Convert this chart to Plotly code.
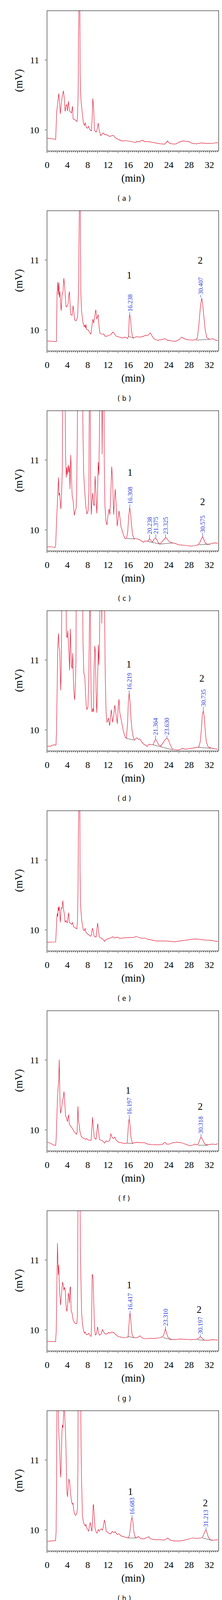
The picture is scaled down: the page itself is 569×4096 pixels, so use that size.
import plotly.graph_objects as go

# ---------------- data ----------------
panel_names = ["( a )", "( b )", "( c )", "( d )", "( e )", "( f )", "( g )", "( h )"]

t_a = [0.08, 1.69, 1.89, 2.08, 2.30, 2.44, 2.61, 2.80, 2.99, 3.22, 3.41, 3.55, 3.75, 3.89, 4.00, 4.22, 4.41, 4.66,
       4.80, 5.02, 5.13, 5.50, 5.91, 6.02, 6.13, 6.19, 6.25, 6.41, 6.52, 6.61, 6.74, 6.97, 7.16, 7.35, 7.52, 7.72,
       7.99, 8.16, 8.41, 8.74, 8.88, 9.02, 9.19, 9.33, 9.66, 9.85, 10.07, 10.27, 10.57, 11.05, 11.46, 11.74, 12.30,
       13.07, 13.41, 13.96, 14.79, 15.63, 16.74, 17.51, 17.71, 18.12, 18.82, 19.23, 20.07, 21.18, 22.29, 23.26,
       23.73, 24.17, 25.06, 25.48, 26.17, 26.78, 27.42, 27.98, 28.67, 29.50, 30.47, 31.45, 32.83, 33.31, 33.67]
v_a = [9.885, 9.867, 10.256, 10.366, 10.52, 10.42, 10.23, 10.38, 10.475, 10.56, 10.44, 10.265, 10.35, 10.366, 10.27,
       10.41, 10.27, 10.26, 10.24, 10.34, 10.165, 10.146, 10.12, 10.22, 10.57, 11.26, 12.6, 12.6, 10.79, 10.53,
       10.38, 10.22, 10.10, 10.064, 10.106, 10.037, 10.027, 10.055, 10.01, 9.985, 10.165, 10.45, 10.29, 10.0,
       9.97, 10.0, 10.10, 10.0, 9.918, 9.96, 9.93, 9.936, 9.909, 9.927, 9.894, 9.868, 9.845, 9.848, 9.835, 9.823,
       9.84, 9.832, 9.857, 9.835, 9.835, 9.82, 9.804, 9.80, 9.845, 9.808, 9.80, 9.804, 9.832, 9.845, 9.839, 9.835,
       9.808, 9.804, 9.817, 9.808, 9.811, 9.82, 9.817]

t_b = [0.08, 1.75, 1.83, 1.97, 2.11, 2.22, 2.33, 2.44, 2.53, 2.66, 2.78, 2.94, 3.14, 3.30, 3.47, 3.64, 3.75, 3.97,
       4.14, 4.25, 4.39, 4.52, 4.66, 4.94, 5.13, 5.27, 5.44, 5.69, 5.97, 6.05, 6.13, 6.24, 6.30, 6.36, 6.52, 6.58,
       6.66, 6.80, 7.02, 7.30, 7.44, 7.58, 7.66, 7.80, 8.13, 8.41, 8.63, 8.83, 9.02, 9.19, 9.41, 9.60, 9.80, 9.94,
       10.07, 10.19, 10.41, 10.91, 11.19, 11.46, 12.02, 12.57, 12.99, 13.27, 13.68, 14.24, 14.79, 15.35, 15.90,
       16.07, 16.21, 16.29, 16.43, 16.60, 16.82, 17.07, 17.57, 18.40, 18.96, 19.37, 19.79, 20.34, 20.62, 21.04,
       21.73, 22.56, 23.26, 23.67, 24.51, 25.34, 26.03, 26.51, 26.95, 27.56, 28.67, 29.37, 29.64, 29.92, 30.20,
       30.47, 30.66, 30.89, 31.17, 31.50, 32.00, 32.69, 33.25, 33.67]
v_b = [9.845, 9.839, 9.835, 10.53, 10.686, 10.50, 10.676, 10.466, 10.55, 10.384, 10.274, 10.494, 10.55, 10.74, 10.62,
       10.42, 10.33, 10.34, 10.375, 10.475, 10.55, 10.384, 10.22, 10.21, 10.347, 10.256, 10.146, 10.13, 10.174,
       10.238, 10.494, 10.676, 11.35, 12.6, 12.6, 11.26, 10.53, 10.274, 10.128, 10.046, 10.073, 10.027, 10.082,
       10.009, 10.0, 9.963, 9.94, 10.055, 10.155, 10.10, 10.20, 10.29, 10.155, 10.19, 10.22, 10.09, 9.954, 9.94,
       9.945, 9.909, 9.918, 9.936, 9.973, 9.945, 9.909, 9.90, 9.887, 9.90, 9.881, 9.927, 10.20, 10.22, 10.165,
       10.018, 9.909, 9.887, 9.905, 9.90, 9.909, 9.927, 9.918, 9.96, 9.927, 9.876, 9.854, 9.863, 9.878, 9.857,
       9.845, 9.839, 9.863, 9.90, 9.881, 9.863, 9.857, 9.863, 9.89, 10.073, 10.31, 10.457, 10.384, 10.20, 10.0,
       9.89, 9.868, 9.876, 9.854, 9.85]

t_c = [0.08, 1.19, 1.53, 1.69, 1.89, 2.08, 2.25, 2.36, 2.47, 2.58, 2.72, 2.86, 3.00, 3.14, 3.30, 3.50, 3.64, 3.77,
       3.89, 4.02, 4.16, 4.30, 4.41, 4.52, 4.66, 4.80, 4.94, 5.13, 5.36, 5.55, 5.72, 5.83, 5.97, 6.02, 6.97, 7.08,
       7.22, 7.44, 7.63, 7.85, 8.08, 8.24, 8.35, 8.46, 8.58, 8.72, 8.85, 8.99, 9.16, 9.30, 9.46, 9.60, 9.80, 9.94,
       10.07, 10.21, 10.35, 10.49, 10.77, 10.85, 10.99, 11.19, 11.27, 11.41, 11.60, 11.80, 12.02, 12.21, 12.38,
       12.57, 12.74, 12.91, 13.13, 13.27, 13.43, 13.60, 13.82, 14.02, 14.18, 14.38, 14.57, 14.79, 15.07, 15.40,
       15.68, 15.90, 16.10, 16.29, 16.46, 16.65, 16.87, 17.15, 17.71, 18.26, 18.62, 18.96, 19.23, 19.65, 19.93,
       20.20, 20.43, 20.76, 21.12, 21.40, 21.62, 21.95, 22.23, 22.56, 22.98, 23.40, 23.67, 24.09, 24.65, 25.34,
       25.89, 26.73, 27.56, 28.39, 29.09, 29.78, 30.20, 30.47, 30.66, 30.89, 31.17, 31.58, 32.14, 32.56, 33.11,
       33.67]
v_c = [9.762, 9.759, 9.748, 9.78, 10.165, 10.53, 10.75, 10.494, 10.53, 10.42, 10.30, 10.53, 10.86, 12.4, 12.4, 12.4,
       11.08, 10.75, 10.896, 10.786, 10.93, 10.82, 10.91, 10.585, 11.07, 10.713, 10.494, 10.42, 10.21, 10.274,
       10.31, 10.53, 11.44, 12.4, 12.4, 11.35, 10.80, 10.53, 10.347, 10.229, 10.274, 10.53, 12.4, 12.4, 10.713,
       10.22, 10.42, 10.53, 10.366, 10.347, 10.768, 10.585, 10.238, 10.457, 10.97, 10.786, 11.26, 12.4, 12.4,
       11.08, 12.4, 12.4, 10.987, 10.347, 10.128, 10.073, 10.22, 10.30, 10.22, 10.53, 10.905, 10.713, 10.22,
       10.42, 10.585, 10.384, 10.055, 10.165, 10.274, 10.165, 10.046, 10.0, 9.927, 9.876, 9.881, 9.982, 10.20,
       10.32, 10.238, 10.073, 9.927, 9.881, 9.876, 9.863, 9.845, 9.826, 9.845, 9.841, 9.845, 9.876, 9.857, 9.83,
       9.872, 9.887, 9.863, 9.817, 9.80, 9.826, 9.863, 9.894, 9.872, 9.835, 9.817, 9.808, 9.79, 9.786, 9.78,
       9.771, 9.777, 9.79, 9.835, 9.881, 9.905, 9.872, 9.817, 9.795, 9.80, 9.813, 9.817, 9.813]

t_d = [0.08, 0.64, 1.33, 1.75, 1.86, 1.97, 2.11, 2.25, 2.36, 2.47, 2.58, 2.69, 2.80, 2.91, 2.97, 3.69, 3.80, 3.97,
       4.08, 4.19, 4.30, 4.44, 4.58, 4.69, 4.80, 4.94, 5.05, 5.19, 5.33, 5.44, 5.58, 5.69, 5.77, 6.97, 7.08, 7.24,
       7.44, 7.58, 7.72, 7.85, 8.05, 8.22, 8.35, 8.49, 8.60, 8.74, 8.88, 9.02, 9.16, 9.27, 9.41, 9.52, 9.66, 9.80,
       9.91, 10.02, 10.10, 10.21, 10.35, 10.49, 10.71, 10.77, 10.91, 11.24, 11.35, 11.46, 11.63, 11.80, 11.96,
       12.10, 12.24, 12.35, 12.52, 12.66, 12.79, 12.93, 13.13, 13.35, 13.52, 13.68, 13.85, 14.02, 14.18, 14.32,
       14.52, 14.74, 15.02, 15.35, 15.62, 15.85, 16.01, 16.18, 16.35, 16.54, 16.74, 16.96, 17.23, 17.51, 17.71,
       17.99, 18.26, 18.54, 18.90, 19.29, 19.73, 20.07, 20.34, 20.90, 21.18, 21.40, 21.68, 22.01, 22.43, 22.84,
       23.26, 23.62, 23.90, 24.23, 24.65, 25.06, 25.89, 26.31, 26.73, 27.28, 28.11, 28.95, 29.50, 29.92, 30.20,
       30.42, 30.61, 30.81, 30.97, 31.17, 31.39, 31.72, 32.28, 32.97, 33.67]
v_d = [9.771, 9.771, 9.79, 9.784, 9.98, 10.53, 11.21, 11.38, 11.17, 11.16, 10.896, 10.567, 10.914, 11.30, 12.4, 12.4,
       11.35, 11.316, 11.417, 11.26, 11.115, 10.85, 11.444, 11.19, 10.914, 10.877, 11.097, 10.73, 10.494, 10.43,
       10.64, 10.987, 12.4, 12.4, 11.26, 10.823, 10.75, 10.53, 10.347, 10.29, 10.33, 10.713, 12.4, 12.4, 10.896,
       10.31, 10.256, 10.31, 10.256, 10.896, 11.20, 11.115, 10.53, 10.247, 10.53, 11.04, 11.216, 10.93, 11.26,
       12.4, 12.4, 11.52, 12.4, 12.4, 11.35, 10.80, 10.256, 10.11, 10.128, 10.174, 10.10, 10.064, 10.20, 10.29,
       10.20, 10.11, 10.20, 10.356, 10.256, 10.165, 10.091, 10.33, 10.44, 10.256, 10.183, 10.091, 9.991, 9.909,
       9.881, 10.073, 10.384, 10.53, 10.40, 10.165, 10.0, 9.909, 9.857, 9.881, 9.89, 9.868, 9.872, 9.845, 9.808,
       9.79, 9.766, 9.80, 9.793, 9.79, 9.845, 9.872, 9.835, 9.79, 9.771, 9.817, 9.863, 9.887, 9.863, 9.80, 9.735,
       9.72, 9.717, 9.726, 9.739, 9.726, 9.735, 9.744, 9.753, 9.762, 9.835, 10.018, 10.22, 10.274, 10.20, 10.0,
       9.835, 9.762, 9.744, 9.735, 9.726]

t_e = [0.08, 1.69, 1.80, 1.94, 2.03, 2.11, 2.19, 2.30, 2.39, 2.50, 2.61, 2.75, 2.86, 2.97, 3.11, 3.25, 3.39, 3.55,
       3.75, 3.97, 4.14, 4.25, 4.39, 4.66, 4.86, 5.02, 5.22, 5.50, 5.86, 5.99, 6.11, 6.16, 6.22, 6.44, 6.49, 6.58,
       6.69, 6.88, 7.16, 7.35, 7.49, 7.63, 7.85, 8.27, 8.55, 8.74, 8.85, 8.96, 9.10, 9.30, 9.66, 9.80, 9.96, 10.10,
       10.29, 10.77, 11.10, 11.32, 11.60, 12.16, 12.57, 12.96, 13.27, 13.82, 14.38, 15.35, 16.46, 17.15, 17.57,
       18.12, 18.82, 19.23, 19.79, 20.62, 21.45, 22.29, 23.40, 24.37, 25.06, 26.17, 27.28, 28.39, 29.22, 30.06,
       31.17, 32.28, 32.97, 33.67]
v_e = [9.826, 9.83, 9.98, 10.20, 10.238, 10.19, 10.33, 10.274, 10.338, 10.20, 10.11, 10.29, 10.32, 10.31, 10.42,
       10.29, 10.238, 10.11, 10.137, 10.10, 10.20, 10.247, 10.11, 10.091, 10.082, 10.11, 10.046, 10.033, 10.018,
       10.12, 10.64, 11.32, 12.6, 12.6, 10.896, 10.41, 10.256, 10.11, 10.0, 9.99, 10.027, 9.973, 9.954, 9.93,
       9.912, 9.927, 10.0, 10.027, 9.973, 9.909, 9.90, 9.982, 10.10, 10.018, 9.90, 9.881, 9.863, 9.839, 9.863,
       9.881, 9.89, 9.905, 9.887, 9.90, 9.881, 9.89, 9.894, 9.896, 9.909, 9.894, 9.881, 9.887, 9.872, 9.857,
       9.845, 9.845, 9.845, 9.839, 9.832, 9.845, 9.854, 9.868, 9.872, 9.868, 9.857, 9.854, 9.845, 9.835]

t_f = [0.08, 0.64, 1.19, 1.69, 1.80, 1.94, 2.05, 2.19, 2.30, 2.39, 2.47, 2.55, 2.66, 2.86, 3.05, 3.19, 3.33, 3.47,
       3.64, 3.83, 4.02, 4.16, 4.25, 4.39, 4.58, 4.94, 5.22, 5.50, 5.77, 5.91, 5.99, 6.08, 6.19, 6.33, 6.47, 6.74,
       7.16, 7.58, 7.85, 8.13, 8.69, 8.83, 8.96, 9.10, 9.30, 9.66, 9.85, 9.99, 10.16, 10.35, 10.77, 11.10, 11.35,
       11.60, 12.02, 12.35, 12.57, 12.85, 13.13, 13.35, 13.63, 14.10, 14.79, 15.35, 15.79, 15.96, 16.10, 16.21,
       16.35, 16.54, 16.82, 17.15, 17.71, 18.40, 19.23, 19.79, 20.62, 21.73, 22.70, 23.06, 23.26, 23.53, 24.09,
       24.79, 25.62, 26.45, 27.28, 28.11, 28.67, 29.09, 29.50, 29.78, 30.06, 30.34, 30.61, 30.95, 31.31, 31.72,
       32.56, 33.25, 33.67]
v_f = [9.826, 9.813, 9.79, 9.78, 9.89, 10.256, 10.457, 10.62, 10.713, 11.005, 10.676, 10.384, 10.238, 10.31, 10.42,
       10.457, 10.55, 10.42, 10.20, 10.174, 10.12, 10.183, 10.22, 10.082, 10.064, 10.027, 9.99, 9.963, 9.94,
       9.963, 10.22, 10.338, 10.128, 10.073, 9.982, 9.909, 9.881, 9.868, 9.876, 9.857, 9.854, 10.0, 10.183,
       10.055, 9.89, 9.868, 9.982, 10.091, 9.963, 9.863, 9.854, 9.835, 9.813, 9.845, 9.835, 9.854, 9.949, 9.89,
       9.881, 9.90, 9.854, 9.826, 9.817, 9.808, 9.813, 9.982, 10.137, 10.155, 10.073, 9.89, 9.811, 9.817, 9.826,
       9.82, 9.82, 9.80, 9.793, 9.79, 9.793, 9.817, 9.826, 9.80, 9.80, 9.82, 9.826, 9.82, 9.80, 9.777, 9.784,
       9.80, 9.79, 9.80, 9.854, 9.90, 9.872, 9.817, 9.79, 9.79, 9.80, 9.795, 9.808]

t_g = [0.08, 1.67, 1.80, 1.92, 2.00, 2.05, 2.14, 2.22, 2.30, 2.39, 2.53, 2.66, 2.80, 2.94, 3.05, 3.19, 3.30, 3.44,
       3.58, 3.72, 3.89, 4.02, 4.19, 4.30, 4.41, 4.52, 4.61, 4.75, 4.94, 5.13, 5.36, 5.63, 5.86, 5.97, 6.05, 6.11,
       6.47, 6.55, 6.66, 6.80, 6.97, 7.16, 7.35, 7.52, 7.72, 7.99, 8.27, 8.49, 8.69, 8.80, 8.88, 8.96, 9.08, 9.19,
       9.33, 9.52, 9.71, 9.85, 9.96, 10.13, 10.30, 10.63, 10.91, 11.13, 11.46, 11.88, 12.16, 12.43, 12.71, 13.13,
       13.54, 13.96, 14.52, 15.07, 15.63, 15.96, 16.13, 16.29, 16.37, 16.54, 16.74, 17.01, 17.57, 17.99, 18.32,
       18.68, 19.23, 20.07, 21.18, 22.15, 22.70, 22.98, 23.20, 23.34, 23.53, 23.81, 24.37, 25.06, 26.17, 27.28,
       28.39, 29.50, 29.84, 30.20, 30.53, 30.95, 31.72, 32.56, 33.67]
v_g = [9.839, 9.835, 9.98, 10.53, 11.04, 11.24, 10.95, 10.786, 10.93, 10.676, 10.494, 10.356, 10.475, 10.60, 10.686,
       10.64, 10.567, 10.61, 10.567, 10.366, 10.265, 10.33, 10.53, 10.494, 10.384, 10.60, 10.62, 10.274, 10.238,
       10.146, 10.11, 10.091, 10.091, 10.20, 11.08, 12.4, 12.4, 11.17, 10.713, 10.256, 10.091, 10.0, 9.954, 9.973,
       9.936, 9.936, 9.954, 9.918, 9.909, 10.165, 10.786, 10.795, 10.713, 10.42, 10.055, 9.927, 9.945, 10.0,
       10.046, 9.963, 9.927, 9.94, 10.009, 9.973, 9.945, 9.945, 9.967, 9.954, 9.973, 9.963, 9.936, 9.909, 9.90,
       9.89, 9.894, 9.90, 10.055, 10.229, 10.238, 10.11, 9.945, 9.894, 9.89, 9.90, 9.918, 9.89, 9.876, 9.881,
       9.881, 9.89, 9.903, 9.927, 9.991, 10.018, 9.963, 9.90, 9.868, 9.863, 9.872, 9.868, 9.863, 9.868, 9.881,
       9.905, 9.887, 9.857, 9.854, 9.863, 9.857]

t_h = [0.08, 1.67, 1.78, 1.89, 1.97, 2.14, 2.25, 2.36, 2.47, 2.58, 2.69, 2.80, 2.91, 3.02, 3.14, 3.25, 3.36, 3.47,
       3.58, 3.69, 3.80, 3.91, 4.02, 4.16, 4.30, 4.47, 4.61, 4.80, 4.97, 5.11, 5.24, 5.41, 5.63, 5.86, 5.99, 6.08,
       6.13, 6.61, 6.69, 6.80, 6.97, 7.16, 7.35, 7.52, 7.66, 7.80, 7.99, 8.19, 8.35, 8.52, 8.69, 8.83, 8.94, 9.08,
       9.16, 9.27, 9.44, 9.66, 9.85, 10.07, 10.30, 10.49, 10.69, 10.91, 11.10, 11.30, 11.46, 11.68, 12.02, 12.30,
       12.57, 12.85, 13.13, 13.46, 13.82, 14.18, 14.52, 14.93, 15.35, 15.96, 16.24, 16.46, 16.65, 16.76, 16.90,
       17.09, 17.34, 17.71, 17.99, 18.40, 19.10, 19.51, 20.01, 20.34, 21.18, 22.29, 23.12, 23.81, 24.23, 25.06,
       26.17, 27.00, 27.84, 28.67, 29.50, 30.34, 30.67, 30.95, 31.17, 31.34, 31.53, 31.78, 32.14, 32.69, 33.67]
v_h = [9.839, 9.85, 9.982, 10.896, 12.4, 12.4, 11.536, 11.30, 11.225, 10.896, 10.75, 10.987, 11.35, 11.50, 11.46,
       11.66, 12.4, 11.63, 11.48, 11.26, 10.896, 10.548, 10.475, 10.62, 10.73, 10.676, 10.53, 10.42, 10.366,
       10.384, 10.29, 10.229, 10.21, 10.238, 10.31, 10.896, 12.4, 12.4, 11.26, 10.713, 10.20, 10.11, 10.082,
       10.055, 10.082, 10.027, 10.009, 9.982, 10.055, 10.11, 10.027, 9.982, 10.091, 10.347, 10.366, 10.238,
       10.037, 9.973, 9.954, 10.009, 9.982, 10.009, 10.018, 9.996, 10.055, 10.146, 10.091, 9.982, 9.963, 9.949,
       9.945, 9.982, 9.963, 9.976, 9.936, 9.949, 9.918, 9.909, 9.90, 9.887, 9.927, 10.073, 10.165, 10.174,
       10.128, 9.982, 9.90, 9.89, 9.909, 9.881, 9.872, 9.89, 9.905, 9.876, 9.863, 9.863, 9.857, 9.887, 9.857,
       9.845, 9.845, 9.854, 9.872, 9.887, 9.881, 9.887, 9.90, 9.954, 9.991, 10.0, 9.963, 9.90, 9.863, 9.854,
       9.863]

# integration baselines (per panel: list of [t_start, t_end] and [v_start, v_end])
base_t = {
    "b": [[15.99, 17.02], [29.45, 32.0]],
    "c": [[15.76, 17.29], [19.79, 22.29], [22.29, 24.79], [29.92, 32.0]],
    "d": [[15.62, 17.15], [20.90, 24.79], [29.78, 32.28]],
    "f": [[15.79, 16.87], [29.72, 31.72]],
    "g": [[15.90, 17.29], [22.84, 24.51], [29.64, 31.03]],
    "h": [[15.96, 17.57], [30.61, 32.56]],
}
base_v = {
    "b": [[9.912, 9.885], [9.857, 9.867]],
    "c": [[9.881, 9.872], [9.839, 9.80], [9.80, 9.817], [9.79, 9.80]],
    "d": [[9.881, 9.857], [9.79, 9.717], [9.753, 9.74]],
    "f": [[9.813, 9.808], [9.784, 9.784]],
    "g": [[9.909, 9.89], [9.894, 9.863], [9.863, 9.854]],
    "h": [[9.887, 9.887], [9.887, 9.854]],
}

# retention-time labels: text, apex time, apex value, label base value
rt_text = {
    "b": ["16.238", "30.407"],
    "c": ["16.308", "20.238", "21.375", "23.325", "30.575"],
    "d": ["16.219", "21.364", "23.630", "30.735"],
    "f": ["16.197", "30.318"],
    "g": ["16.417", "23.310", "30.197"],
    "h": ["16.683", "31.213"],
}
rt_x = {
    "b": [16.30, 30.30],
    "c": [16.32, 20.18, 21.45, 23.34, 30.67],
    "d": [16.18, 21.40, 23.62, 30.81],
    "f": [16.21, 30.34],
    "g": [16.37, 23.34, 30.20],
    "h": [16.76, 31.34],
}
rt_apex = {
    "b": [10.223, 10.466],
    "c": [10.32, 9.876, 9.89, 9.90, 9.905],
    "d": [10.53, 9.872, 9.89, 10.274],
    "f": [10.155, 9.90],
    "g": [10.238, 10.018, 9.905],
    "h": [10.174, 10.0],
}
rt_base = {
    "b": [10.256, 10.50],
    "c": [10.366, 9.936, 9.936, 9.936, 9.96],
    "d": [10.567, 9.923, 9.923, 10.333],
    "f": [10.216, 9.945],
    "g": [10.274, 10.055, 9.94],
    "h": [10.21, 10.04],
}

# compound numbers "1" and "2"
num_x = {"b": [16.18, 30.20], "c": [16.40, 30.67], "d": [16.13, 30.56],
         "f": [15.99, 30.20], "g": [16.24, 30.00], "h": [16.46, 31.22]}
num_y = {"b": [10.782, 10.996], "c": [10.823, 10.402], "d": [10.94, 10.74],
         "f": [10.567, 10.338], "g": [10.643, 10.29], "h": [10.548, 10.388]}
num_text = ["1", "2"]

x_tickvals = list(range(0, 34, 2))
x_ticktext = [str(v) if v % 4 == 0 else "" for v in x_tickvals]
y_tickvals = [10, 11]
x_range = [0, 33.8]
y_range = [9.704, 11.70]

series = {"a": (t_a, v_a), "b": (t_b, v_b), "c": (t_c, v_c), "d": (t_d, v_d),
          "e": (t_e, v_e), "f": (t_f, v_f), "g": (t_g, v_g), "h": (t_h, v_h)}
keys = ["a", "b", "c", "d", "e", "f", "g", "h"]

# ---------------- layout geometry ----------------
W, H = 569, 4096
REF_W, REF_H = 600.0, 4320.0
PANEL = 540.0
FR_L, FR_R, FR_T, FR_B = 113.7, 582.0, 20.8, 398.8

RED = "rgb(225,22,52)"
BLUE = "rgb(45,60,215)"
SERIF = "Liberation Serif"


def px(x):
    return x / REF_W


def py(y):
    return 1 - y / REF_H


fig = go.Figure()
layout = dict(width=W, height=H, margin=dict(l=0, r=0, t=0, b=0), autosize=False,
              paper_bgcolor="white", plot_bgcolor="white", showlegend=False)
annotations = []

for k, key in enumerate(keys):
    sfx = "" if k == 0 else str(k + 1)
    xa, ya = "x" + sfx, "y" + sfx
    t, v = series[key]
    fig.add_trace(go.Scatter(x=t, y=v, mode="lines", line=dict(color=RED, width=1.2),
                             xaxis=xa, yaxis=ya, hoverinfo="skip"))
    for bt, bv in zip(base_t.get(key, []), base_v.get(key, [])):
        fig.add_trace(go.Scatter(x=bt, y=bv, mode="lines", line=dict(color="rgb(60,60,60)", width=1),
                                 xaxis=xa, yaxis=ya, hoverinfo="skip"))
    for txt, rx, ra, rb in zip(rt_text.get(key, []), rt_x.get(key, []), rt_apex.get(key, []),
                               rt_base.get(key, [])):
        fig.add_trace(go.Scatter(x=[rx, rx], y=[ra, rb], mode="lines", line=dict(color=BLUE, width=1),
                                 xaxis=xa, yaxis=ya, hoverinfo="skip"))
        annotations.append(dict(x=rx, y=rb, xref=xa, yref=ya, text=txt, showarrow=False,
                                textangle=-90, xanchor="center", yanchor="bottom", borderpad=0,
                                font=dict(family=SERIF, size=16, color=BLUE)))
    for txt, nx, ny in zip(num_text, num_x.get(key, []), num_y.get(key, [])):
        annotations.append(dict(x=nx, y=ny, xref=xa, yref=ya, text=txt, showarrow=False,
                                xanchor="center", yanchor="middle",
                                font=dict(family=SERIF, size=25, color="black")))

    off = PANEL * k
    layout["xaxis" + sfx] = dict(
        domain=[px(FR_L), px(FR_R)], range=x_range, anchor=ya,
        tickmode="array", tickvals=x_tickvals, ticktext=x_ticktext,
        ticks="outside", ticklen=5, tickwidth=1.2, tickcolor="black",
        minor=dict(tickmode="linear", tick0=0, dtick=0.4, ticks="outside", ticklen=3,
                   tickwidth=1, tickcolor="black"),
        showline=True, mirror=True, linecolor="black", linewidth=1.4,
        showgrid=False, zeroline=False, ticklabelstandoff=9,
        tickfont=dict(family=SERIF, size=24, color="black"), fixedrange=True)
    layout["yaxis" + sfx] = dict(
        domain=[py(off + FR_B), py(off + FR_T)], range=y_range, anchor=xa,
        tickmode="array", tickvals=y_tickvals, ticktext=[str(v) for v in y_tickvals],
        ticks="outside", ticklen=4.5, tickwidth=1.2, tickcolor="black",
        showline=True, mirror=True, linecolor="black", linewidth=1.4,
        showgrid=False, zeroline=False, ticklabelstandoff=10,
        tickfont=dict(family=SERIF, size=24, color="black"), fixedrange=True)

    annotations.append(dict(x=px(36.5), y=py(off + 209), xref="paper", yref="paper", text="(mV)",
                            showarrow=False, textangle=-90, xanchor="center", yanchor="middle",
                            font=dict(family=SERIF, size=27, color="black")))
    annotations.append(dict(x=px(349), y=py(off + 472.5), xref="paper", yref="paper", text="(min)",
                            showarrow=False, xanchor="center", yanchor="middle",
                            font=dict(family=SERIF, size=27, color="black")))
    annotations.append(dict(x=px(324), y=py(off + 527), xref="paper", yref="paper", text=panel_names[k],
                            showarrow=False, xanchor="center", yanchor="middle",
                            font=dict(family="DejaVu Sans", size=17, color="black")))

layout["annotations"] = annotations
fig.update_layout(**layout)
fig.write_html("out.html")
